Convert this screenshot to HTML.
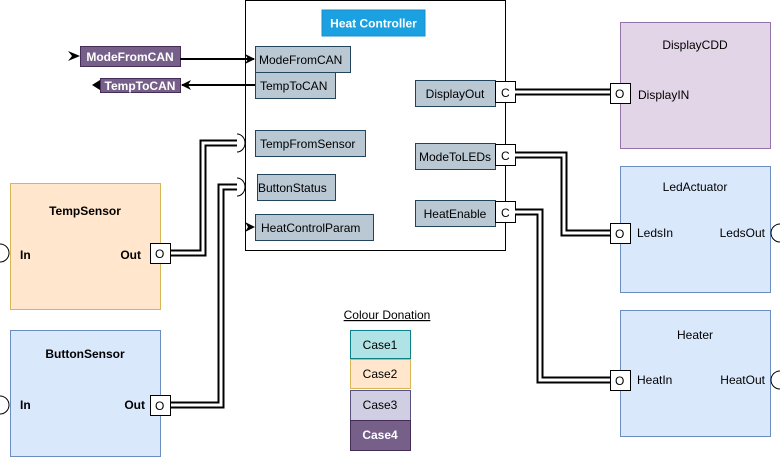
<!DOCTYPE html>
<html><head><meta charset="utf-8"><style>
body{margin:0;width:781px;height:458px;background:#fff;overflow:hidden;font-family:"Liberation Sans",Arial,sans-serif;}
svg text{font-family:"Liberation Sans",Arial,sans-serif;font-size:12px;}
</style></head><body>
<svg width="781" height="458" viewBox="0 0 781 458" xmlns="http://www.w3.org/2000/svg">
<defs>
<marker id="ah" markerWidth="10" markerHeight="10" refX="9" refY="5" orient="auto" markerUnits="userSpaceOnUse">
<path d="M0,0 L10,5 L0,10 L3,5 Z" fill="#000"/></marker>
</defs>
<rect x="245.5" y="0.5" width="260" height="250" fill="#fff" stroke="#000"/>
<rect x="322" y="10" width="103" height="26" fill="#1ba1e2" stroke="#1a8fca"/>
<text x="373.5" y="27.5" text-anchor="middle" fill="#fff" font-weight="bold">Heat Controller</text>
<g fill="#bac8d3" stroke="#23445d">
<rect x="255.5" y="46.5" width="95" height="26"/>
<rect x="255.5" y="72.5" width="80" height="26"/>
<rect x="255.5" y="130.5" width="110" height="26"/>
<rect x="257.5" y="174.5" width="78" height="26"/>
<rect x="255.5" y="214.5" width="118" height="26"/>
<rect x="415.5" y="80.5" width="80" height="26"/>
<rect x="415.5" y="143.5" width="80" height="26"/>
<rect x="415.5" y="200.5" width="80" height="26"/>
</g>
<g fill="#000">
<text x="259" y="64">ModeFromCAN</text>
<text x="260" y="90">TempToCAN</text>
<text x="260" y="148">TempFromSensor</text>
<text x="258" y="192">ButtonStatus</text>
<text x="261" y="232">HeatControlParam</text>
<text x="455" y="98" text-anchor="middle">DisplayOut</text>
<text x="455" y="161" text-anchor="middle">ModeToLEDs</text>
<text x="455" y="218" text-anchor="middle">HeatEnable</text>
</g>
<g fill="#fff" stroke="#000">
<rect x="495.5" y="81.5" width="20" height="21"/>
<rect x="495.5" y="144.5" width="20" height="21"/>
<rect x="495.5" y="201.5" width="20" height="21"/>
</g>
<g font-size="12"><text x="501" y="97">C</text><text x="501" y="160">C</text><text x="501" y="217">C</text></g>
<rect x="620.5" y="22.5" width="150" height="126" fill="#e1d5e7" stroke="#9673a6"/>
<text x="695" y="49" text-anchor="middle">DisplayCDD</text>
<rect x="620.5" y="166.5" width="150" height="126" fill="#dae8fc" stroke="#6c8ebf"/>
<text x="695" y="191" text-anchor="middle">LedActuator</text>
<rect x="620.5" y="310.5" width="150" height="126" fill="#dae8fc" stroke="#6c8ebf"/>
<text x="695" y="339" text-anchor="middle">Heater</text>
<text x="638" y="99">DisplayIN</text>
<text x="637" y="237">LedsIn</text>
<text x="765" y="237" text-anchor="end">LedsOut</text>
<text x="637" y="384">HeatIn</text>
<text x="765" y="384" text-anchor="end">HeatOut</text>
<rect x="10.5" y="183.5" width="150" height="126" fill="#ffe6cc" stroke="#d6b656"/>
<text x="85" y="215" text-anchor="middle" font-weight="bold">TempSensor</text>
<text x="20" y="259" font-weight="bold">In</text><text x="141" y="259" text-anchor="end" font-weight="bold">Out</text>
<rect x="10.5" y="330.5" width="150" height="126" fill="#dae8fc" stroke="#6c8ebf"/>
<text x="85" y="358" text-anchor="middle" font-weight="bold">ButtonSensor</text>
<text x="20" y="409" font-weight="bold">In</text><text x="145" y="409" text-anchor="end" font-weight="bold">Out</text>
<g fill="none" stroke-linejoin="miter">
<g stroke="#000" stroke-width="7">
<path d="M515,92 H612"/>
<path d="M515,155 H564 V233 H612"/>
<path d="M515,212 H540 V380 H612"/>
<path d="M168,253 H203 V143 H238"/>
<path d="M168,405 H221 V187 H238"/>
</g>
<g stroke="#fff" stroke-width="3">
<path d="M515,92 H612"/>
<path d="M515,155 H564 V233 H612"/>
<path d="M515,212 H540 V380 H612"/>
<path d="M168,253 H203 V143 H238"/>
<path d="M168,405 H221 V187 H238"/>
</g>
</g>
<g fill="#fff" stroke="#000">
<rect x="610.5" y="83.5" width="20" height="20"/>
<rect x="610.5" y="223.5" width="20" height="20"/>
<rect x="610.5" y="370.5" width="20" height="20"/>
<rect x="150.5" y="243.5" width="20" height="20"/>
<rect x="150.5" y="395.5" width="20" height="20"/>
</g>
<g><text x="615" y="98">O</text><text x="615" y="238">O</text><text x="615" y="385">O</text><text x="155" y="258">O</text><text x="155" y="410">O</text></g>
<g fill="#fff" stroke="#000" stroke-width="1">
<path d="M237,134 A8,9 0 0 1 237,152"/>
<path d="M237,178 A8,9 0 0 1 237,196"/>
<path d="M0,244 A9,9 0 0 1 0,262"/>
<path d="M0,396 A9,9 0 0 1 0,414"/>
<path d="M780,224 A9,9 0 0 0 780,242"/>
<path d="M780,371 A9,9 0 0 0 780,389"/>
</g>
<rect x="80.5" y="46.5" width="100" height="20" fill="#76608a" stroke="#432d57"/>
<text x="130" y="61" text-anchor="middle" fill="#fff" font-weight="bold">ModeFromCAN</text>
<rect x="100.5" y="78.5" width="80" height="14" fill="#76608a" stroke="#432d57"/>
<text x="140" y="90" text-anchor="middle" fill="#fff" font-weight="bold">TempToCAN</text>
<path d="M68,51 L80,56 L68,61 L72,56 Z" fill="#000"/>
<path d="M92,80 L100,85 L92,90 Z" transform="rotate(180 96 85)" fill="#000"/>
<line x1="180" y1="59" x2="254" y2="59" stroke="#000" stroke-width="2" marker-end="url(#ah)"/>
<line x1="255" y1="85" x2="182" y2="85" stroke="#000" stroke-width="2" marker-end="url(#ah)"/>
<path d="M245,222 L255,227 L245,232 L248,227 Z" fill="#000"/>
<text x="387" y="319" text-anchor="middle" text-decoration="underline" font-size="12">Colour Donation</text>
<rect x="350.5" y="330.5" width="60" height="28" fill="#b0e3e6" stroke="#0e8088"/>
<text x="380" y="349" text-anchor="middle">Case1</text>
<rect x="350.5" y="359.5" width="60" height="29" fill="#ffe6cc" stroke="#d6b656"/>
<text x="380" y="378" text-anchor="middle">Case2</text>
<rect x="350.5" y="390.5" width="60" height="30" fill="#d0cee2" stroke="#56517e"/>
<text x="380" y="409" text-anchor="middle">Case3</text>
<rect x="350.5" y="420.5" width="60" height="30" fill="#76608a" stroke="#432d57"/>
<text x="380" y="439" text-anchor="middle" fill="#fff" font-weight="bold">Case4</text>
</svg>
</body></html>
